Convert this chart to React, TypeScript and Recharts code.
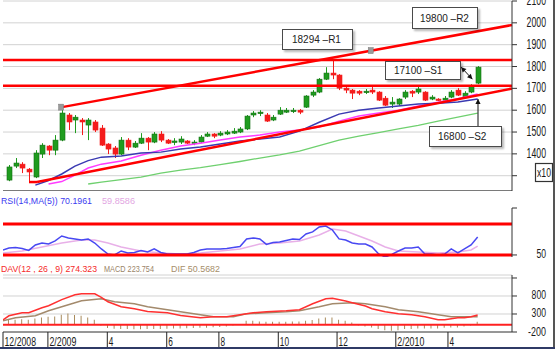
import React from 'react';
import {
  ComposedChart, Bar, Line, XAxis, YAxis, CartesianGrid, ReferenceLine, ReferenceDot,
} from 'recharts';

const FONT = '"Liberation Sans", Arial, sans-serif';

// weekly candles (index x10)
const opens = [1280, 1344, 1353, 1330, 1294, 1399, 1436, 1417, 1463, 1578, 1555, 1555, 1532, 1546, 1518, 1445, 1427, 1399, 1463, 1431, 1449, 1472, 1454, 1491, 1463, 1454, 1454, 1459, 1449, 1454, 1481, 1491, 1486, 1491, 1495, 1500, 1514, 1578, 1587, 1578, 1555, 1582, 1591, 1596, 1600, 1614, 1669, 1683, 1742, 1770, 1761, 1701, 1692, 1687, 1683, 1692, 1683, 1655, 1628, 1628, 1660, 1687, 1683, 1683, 1651, 1651, 1646, 1660, 1692, 1660, 1683, 1724];
const highs = [1349, 1381, 1362, 1335, 1417, 1449, 1440, 1486, 1614, 1587, 1578, 1564, 1564, 1555, 1532, 1449, 1436, 1477, 1472, 1459, 1495, 1477, 1500, 1504, 1468, 1472, 1481, 1463, 1463, 1486, 1500, 1495, 1504, 1509, 1518, 1523, 1578, 1596, 1600, 1587, 1578, 1614, 1610, 1610, 1605, 1669, 1692, 1747, 1797, 1834, 1765, 1706, 1697, 1692, 1697, 1706, 1687, 1665, 1660, 1655, 1692, 1692, 1710, 1687, 1669, 1655, 1665, 1692, 1701, 1687, 1719, 1802];
const lows = [1275, 1335, 1312, 1271, 1289, 1381, 1394, 1394, 1458, 1509, 1495, 1486, 1463, 1500, 1436, 1399, 1381, 1395, 1417, 1427, 1445, 1417, 1449, 1454, 1445, 1440, 1445, 1445, 1440, 1449, 1477, 1472, 1481, 1486, 1491, 1495, 1509, 1568, 1573, 1546, 1550, 1578, 1587, 1587, 1582, 1610, 1660, 1678, 1738, 1742, 1692, 1678, 1651, 1669, 1674, 1674, 1642, 1619, 1610, 1619, 1651, 1660, 1674, 1642, 1646, 1642, 1642, 1655, 1665, 1655, 1678, 1719];
const closes = [1340, 1358, 1335, 1317, 1404, 1440, 1417, 1463, 1587, 1546, 1568, 1546, 1555, 1509, 1440, 1422, 1399, 1463, 1431, 1449, 1472, 1454, 1491, 1463, 1449, 1459, 1468, 1449, 1454, 1477, 1491, 1481, 1495, 1500, 1504, 1514, 1573, 1587, 1591, 1550, 1568, 1600, 1600, 1600, 1591, 1665, 1683, 1742, 1770, 1761, 1701, 1692, 1678, 1678, 1687, 1683, 1646, 1623, 1637, 1651, 1683, 1678, 1697, 1646, 1660, 1646, 1655, 1683, 1669, 1678, 1710, 1797];

// moving averages: [candle index, value]
const blueMa: [number, number][] = [[4, 1257], [6, 1278], [8, 1308], [10, 1344], [12, 1369], [14, 1385], [17, 1390], [20, 1404], [23, 1408], [26, 1422], [29, 1431], [32, 1445], [35, 1459], [38, 1468], [41, 1477], [44, 1504], [47, 1545], [50, 1582], [53, 1600], [56, 1610], [59, 1619], [62, 1628], [65, 1632], [68, 1637], [71, 1651]];
const pinkMa: [number, number][] = [[6, 1262], [8, 1273], [10, 1303], [12, 1335], [14, 1353], [17, 1367], [20, 1394], [23, 1417], [26, 1436], [29, 1449], [32, 1463], [35, 1477], [38, 1486], [41, 1500], [44, 1509], [47, 1523], [50, 1550], [53, 1573], [56, 1587], [59, 1600], [62, 1619], [65, 1637], [68, 1653], [71, 1674]];
const greenMa: [number, number][] = [[12, 1262], [14, 1271], [17, 1282], [20, 1294], [23, 1312], [26, 1326], [29, 1337], [32, 1351], [35, 1365], [38, 1381], [41, 1395], [44, 1413], [47, 1438], [50, 1463], [53, 1481], [56, 1497], [59, 1514], [62, 1530], [65, 1550], [68, 1568], [71, 1587]];

// support / resistance
const r1 = 1830;
const s1 = 1712;
const upperTrend: [number, number][] = [[8.04, 1614], [76.2, 1990]];
const lowerStub: [number, number][] = [[3.04, 1271], [4.25, 1271]];
const lowerTrend: [number, number][] = [[4.25, 1271], [76.2, 1699]];
const markers: [number, number][] = [[7.9, 1614], [54.8, 1873]];
const s1Arrow: [number, number][] = [[68.5, 1797], [70.2, 1742]];
const s2Arrow: [number, number][] = [[71.05, 1527], [71.05, 1651]];

// RSI
const rsiEdge = 55.6;
const rsi = [57.9, 58.5, 57.3, 55.1, 61.3, 63.5, 62.4, 65.8, 71.4, 69.2, 68.1, 66.9, 68.1, 63.5, 56.8, 51.1, 50, 54.5, 52.3, 52.8, 55.1, 53.4, 56.8, 52.8, 51.1, 51.1, 51.1, 51.1, 52.8, 55.6, 56.8, 56.8, 56.8, 57.3, 58.5, 59.6, 68.1, 69.2, 68.1, 61.9, 64.1, 64.7, 66.4, 68.1, 67.5, 73.7, 76.0, 81.6, 82.7, 78.2, 68.1, 66.9, 63.5, 62.4, 62.4, 59.0, 51.1, 47.7, 50.6, 54.5, 57.9, 57.9, 59.0, 51.1, 51.1, 50, 51.1, 56.8, 52.3, 56.8, 61.3, 70.2];
const rsiMa: [number, number][] = [[-0.9, 52.3], [2, 54.5], [5, 59.0], [8, 63.5], [11, 66.9], [13, 66.9], [15, 63.5], [17, 59.0], [20, 54.5], [23, 52.3], [26, 51.1], [29, 52.3], [32, 54.5], [35, 56.8], [38, 62.4], [41, 63.5], [44, 65.8], [47, 72.6], [49, 79.3], [51, 77.1], [53, 71.4], [55, 65.8], [57, 59.0], [59, 54.5], [62, 53.4], [65, 52.3], [68, 53.4], [70, 55.6], [71, 59.9]];
const rsiBands = [85, 50];

// MACD
const macdHist = [157, 139, 157, 139, 176, 204, 222, 231, 278, 315, 269, 250, 204, 139, -20, -90, -110, -120, -120, -125, -125, -120, -120, -115, -110, -105, -100, -95, -90, -85, -80, -70, -60, -50, -20, 20, 111, 111, 93, 83, 83, 83, 83, 93, 93, 111, 130, 176, 204, 204, 139, 111, 65, -20, -46, -74, -120, -148, -167, -148, -120, -120, -102, -102, -102, -102, -83, -74, -74, -46, -20, 83];
const davLine: [number, number][] = [[-0.9, 139], [0, 250], [2, 333], [3, 333], [5, 472], [6, 528], [8, 700], [10, 833], [11, 861], [13, 861], [14, 760], [15, 640], [17, 500], [19, 444], [21, 370], [24, 333], [26, 260], [29, 194], [31, 222], [33, 222], [35, 278], [37, 333], [39, 361], [42, 389], [44, 417], [46, 583], [48, 722], [49, 740], [51, 660], [52, 611], [54, 520], [55, 444], [57, 361], [59, 306], [61, 278], [63, 222], [65, 139], [66, 139], [68, 194], [69, 194], [70, 222], [71, 274]];
const macdLine: [number, number][] = [[-0.9, 111], [1, 194], [4, 250], [6, 389], [9, 556], [11, 667], [14, 722], [16, 639], [19, 583], [21, 500], [24, 417], [26, 361], [29, 278], [31, 222], [34, 222], [36, 306], [39, 333], [42, 361], [44, 389], [47, 500], [49, 583], [52, 611], [54, 583], [57, 500], [59, 417], [62, 361], [64, 306], [67, 222], [69, 222], [71, 224]];

// axes
const priceTicks = [1300, 1400, 1500, 1600, 1700, 1800, 1900, 2000, 2100];
const rsiTicks = [50, 103];
const macdTicks = [-200, 300, 800, 1300];
const dateTicks = [-0.9, 5.9, 14.9, 23.9, 31.8, 40.8, 49.7, 58.6, 66.5];
const dateLabels = ['12/2008', '2/2009', '4', '6', '8', '10', '12', '2/2010', '4'];

const X_DOMAIN: [number, number] = [-0.9, 76.2];
const GREEN = '#1f9c1f';
const GREEN_EDGE = '#137013';
const RED = '#f41c1c';
const CHART_W = 559;
const MARGIN = { top: 10, right: 6, bottom: 0, left: 3 };

const candleData = opens.map((o, i) => ({ i, o, h: highs[i], l: lows[i], c: closes[i], range: [lows[i], highs[i]] }));
const toPts = (pairs: [number, number][]) => pairs.map(([i, v]) => ({ i, v }));
const rsiData = [{ i: -0.9, v: rsiEdge }, ...rsi.map((v, i) => ({ i, v }))];
const histData = macdHist.map((h, i) => ({ i, h }));
const seg = (p: [number, number][]) => p.map(([x, y]) => ({ x, y }));

const squeeze = (s: string, digit: number) =>
  s.split('').reduce((a, ch) => a + (ch === '-' ? 3.5 : ch === '/' ? 4 : digit), 0);

const Candle = (props: any) => {
  const { x, y, width, height, payload } = props;
  if (!payload) return null;
  const { o, h, l, c } = payload;
  const top = Math.min(y, y + height);
  const span = Math.abs(height);
  const k = span / (h - l || 1);
  const yO = top + (h - o) * k;
  const yC = top + (h - c) * k;
  const cx = Math.round(x + width / 2) + 0.5;
  const up = c >= o;
  const col = up ? GREEN : RED;
  const bt = Math.min(yO, yC);
  const bh = Math.max(1.5, Math.abs(yO - yC));
  return (
    <g>
      <line x1={cx} x2={cx} y1={top} y2={top + span} stroke={col} strokeWidth={1} />
      <rect x={cx - 2.5} y={bt} width={5} height={bh} fill={col} stroke={up ? GREEN_EDGE : RED} strokeWidth={0.6} />
    </g>
  );
};

const Marker = (props: any) => (
  <rect x={props.cx - 2.5} y={props.cy - 3} width={5} height={6} fill="#9a9a9a" stroke="#7a7a7a" strokeWidth={0.5} />
);

const head = (xa: number, ya: number, xb: number, yb: number) => {
  const a = Math.atan2(yb - ya, xb - xa);
  const L = 5;
  const w = 2.6;
  const bx = xb - L * Math.cos(a);
  const by = yb - L * Math.sin(a);
  const pts = [
    [xb, yb],
    [bx + w * Math.sin(a), by - w * Math.cos(a)],
    [bx - w * Math.sin(a), by + w * Math.cos(a)],
  ];
  return <polygon points={pts.map((p) => p.join(',')).join(' ')} fill="#111" />;
};

const arrowShape = (both: boolean) => (props: any) => {
  const { x1, y1, x2, y2 } = props;
  return (
    <g>
      <line x1={x1} y1={y1} x2={x2} y2={y2} stroke="#111" strokeWidth={1} />
      {head(x1, y1, x2, y2)}
      {both ? head(x2, y2, x1, y1) : null}
    </g>
  );
};

// right-axis labels end 29px right of the tick text anchor
const PriceTick = (props: any) => {
  const { x, y, payload } = props;
  if (payload.value === 1300) return <g />;
  const s = String(payload.value);
  const len = squeeze(s, 4.85);
  return (
    <text x={x + 29 - len} y={y + 4} fontSize={15} fontFamily={FONT} fill="#1a1a1a"
      textLength={len} lengthAdjust="spacingAndGlyphs">{s}</text>
  );
};

const SubTick = (props: any) => {
  const { x, y, payload } = props;
  if (payload.value === 103 || payload.value === 1300) return <g />;
  const s = String(payload.value);
  const len = squeeze(s, 4.8);
  return (
    <text x={x + 29 - len} y={y + 3.5} fontSize={12.5} fontFamily={FONT} fill="#1a1a1a"
      textLength={len} lengthAdjust="spacingAndGlyphs">{s}</text>
  );
};

const DateTick = (props: any) => {
  const { x, y, payload } = props;
  const idx = dateTicks.indexOf(payload.value);
  const label = idx >= 0 ? dateLabels[idx] : '';
  return (
    <g>
      <line x1={x} x2={x} y1={y} y2={y + 15} stroke="#222" strokeWidth={1} />
      <text x={x + 1.5} y={y + 14} fontSize={12.5} fontFamily={FONT} fill="#1a1a1a"
        textLength={squeeze(label, 4.6)} lengthAdjust="spacingAndGlyphs">{label}</text>
    </g>
  );
};

const boxBase: React.CSSProperties = {
  position: 'absolute',
  border: '1px solid #4a4a4a',
  background: '#fff',
  boxShadow: '2px 2px 2px rgba(0,0,0,0.28)',
  fontFamily: FONT,
  fontSize: 10,
  color: '#222',
  display: 'flex',
  alignItems: 'center',
  boxSizing: 'border-box',
  whiteSpace: 'nowrap',
};

const Note = ({ left, top, width, height, pad, text }: any) => (
  <div style={{ ...boxBase, left, top, width, height, paddingLeft: pad }}>{text}</div>
);

const axisStroke = { stroke: '#333' };

export default function App() {
  return (
    <div style={{ position: 'absolute', left: 0, top: 0, width: 559, height: 351, background: '#fff', overflow: 'hidden' }}>
      {/* price panel */}
      <div style={{ position: 'absolute', left: 0, top: -9 }}>
        <ComposedChart width={CHART_W} height={200} data={candleData} margin={MARGIN}>
          <CartesianGrid vertical={false} stroke="#d2d2d2" />
          <XAxis type="number" dataKey="i" domain={X_DOMAIN} hide allowDataOverflow />
          <YAxis orientation="right" domain={[1230, 2100]} ticks={priceTicks} interval={0} width={41}
            tickSize={5} tickMargin={0} axisLine={axisStroke} tickLine={axisStroke}
            tick={(p: any) => <PriceTick {...p} />} allowDataOverflow />
          <Bar dataKey="range" barSize={5} shape={Candle} isAnimationActive={false} />
          <Line data={toPts(greenMa)} dataKey="v" stroke="#6fd06f" strokeWidth={1.3} dot={false} isAnimationActive={false} />
          <Line data={toPts(pinkMa)} dataKey="v" stroke="#ff3cff" strokeWidth={1.5} dot={false} isAnimationActive={false} />
          <Line data={toPts(blueMa)} dataKey="v" stroke="#3a3ab2" strokeWidth={1.5} dot={false} isAnimationActive={false} />
          <ReferenceLine y={1230} stroke="#555" strokeWidth={1.5} />
          <ReferenceLine y={r1} stroke="#ff0000" strokeWidth={2.5} />
          <ReferenceLine y={s1} stroke="#ff0000" strokeWidth={2.5} />
          <ReferenceLine segment={seg(upperTrend)} stroke="#ff0000" strokeWidth={2.5} />
          <ReferenceLine segment={seg(lowerStub)} stroke="#ff0000" strokeWidth={2.5} />
          <ReferenceLine segment={seg(lowerTrend)} stroke="#ff0000" strokeWidth={2.5} />
          {markers.map(([x, y], k) => (
            <ReferenceDot key={k} x={x} y={y} shape={Marker} />
          ))}
          <ReferenceLine segment={seg(s1Arrow)} shape={arrowShape(true)} />
          <ReferenceLine segment={seg(s2Arrow)} shape={arrowShape(false)} />
        </ComposedChart>
      </div>

      {/* RSI panel */}
      <div style={{ position: 'absolute', left: 0, top: 198 }}>
        <ComposedChart width={CHART_W} height={63} data={rsiData} margin={{ ...MARGIN, bottom: 4 }}>
          <XAxis type="number" dataKey="i" domain={X_DOMAIN} hide allowDataOverflow />
          <YAxis orientation="right" domain={[47.7, 103]} ticks={rsiTicks} interval={0} width={41}
            tickSize={5} tickMargin={0} axisLine={axisStroke} tickLine={axisStroke}
            tick={(p: any) => <SubTick {...p} />} allowDataOverflow />
          <Line data={toPts(rsiMa)} dataKey="v" stroke="#e8b0e8" strokeWidth={1.5} dot={false} isAnimationActive={false} />
          <Line dataKey="v" stroke="#4848f2" strokeWidth={1.5} dot={false} isAnimationActive={false} />
          {rsiBands.map((b) => (
            <ReferenceLine key={b} y={b} stroke="#ff0000" strokeWidth={3} />
          ))}
        </ComposedChart>
      </div>

      {/* MACD panel */}
      <div style={{ position: 'absolute', left: 0, top: 265 }}>
        <ComposedChart width={CHART_W} height={83} data={histData} margin={MARGIN}>
          <CartesianGrid vertical={false} stroke="#d2d2d2" />
          <XAxis type="number" dataKey="i" domain={X_DOMAIN} ticks={dateTicks} interval={0} height={16}
            tickSize={0} tickMargin={0} tickLine={false} axisLine={{ stroke: '#444' }}
            tick={(p: any) => <DateTick {...p} />} allowDataOverflow />
          <YAxis orientation="right" domain={[-200, 1383]} ticks={macdTicks} interval={0} width={41}
            tickSize={5} tickMargin={0} axisLine={axisStroke} tickLine={axisStroke}
            tick={(p: any) => <SubTick {...p} />} allowDataOverflow />
          <Bar dataKey="h" barSize={1} fill="#a88a5c" isAnimationActive={false} />
          <ReferenceLine y={0} stroke="#ff2020" strokeWidth={2} />
          <Line data={toPts(macdLine)} dataKey="v" stroke="#a38a6c" strokeWidth={1.5} dot={false} isAnimationActive={false} />
          <Line data={toPts(davLine)} dataKey="v" stroke="#ff3030" strokeWidth={1.5} dot={false} isAnimationActive={false} />
        </ComposedChart>
      </div>

      {/* panel titles and unit box */}
      <svg width={559} height={351} style={{ position: 'absolute', left: 0, top: 0, pointerEvents: 'none' }}>
        <g fontFamily={FONT}>
          <text x={1} y={203.5} fontSize={9.5} fill="#3b3bf0" textLength={91} lengthAdjust="spacingAndGlyphs">RSI(14,MA(5)) 70.1961</text>
          <text x={102} y={203.5} fontSize={9.5} fill="#e2a6e2" textLength={33} lengthAdjust="spacingAndGlyphs">59.8586</text>
          <text x={1} y={272} fontSize={8.8} fill="#f52a2a" textLength={96} lengthAdjust="spacingAndGlyphs">DAV(12 , 26 , 9) 274.323</text>
          <text x={104} y={272} fontSize={9} fill="#9a8468" textLength={50} lengthAdjust="spacingAndGlyphs">MACD 223.754</text>
          <text x={171} y={272} fontSize={9.5} fill="#a68e6a" textLength={49} lengthAdjust="spacingAndGlyphs">DIF 50.5682</text>
          <rect x={535.5} y={163.5} width={17} height={18} fill="#fff" stroke="#333" strokeWidth={1.2} />
          <text x={537} y={177} fontSize={13} fill="#1a1a1a" textLength={14} lengthAdjust="spacingAndGlyphs">x10</text>
        </g>
      </svg>

      <Note left={282} top={29} width={71} height={21} pad={9} text="18294 –R1" />
      <Note left={412} top={7} width={66} height={22} pad={7} text="19800 –R2" />
      <Note left={385} top={61} width={76} height={19} pad={8} text="17100 –S1" />
      <Note left={429} top={126} width={73} height={21} pad={8} text="16800 –S2" />

      {/* outer frame */}
      <div style={{ position: 'absolute', left: 553, top: 0, width: 1.5, height: 349, background: '#555' }} />
      <div style={{ position: 'absolute', left: 0, top: 347, width: 555, height: 2, background: '#2f3a66' }} />
    </div>
  );
}
